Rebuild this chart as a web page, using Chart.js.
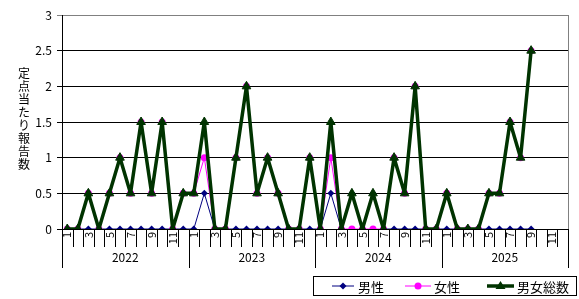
<!DOCTYPE html>
<html lang="ja">
<head>
<meta charset="UTF-8">
<title>定点当たり報告数</title>
<script src="https://cdn.jsdelivr.net/npm/chart.js"></script>
<style>
  body { margin:0; background:#fff; }
  #c { display:block; }
</style>
</head>
<body>
<canvas id="c" width="579" height="299"></canvas>
<script>
// data (monthly, 2022-2025)
const years = ['2022', '2023', '2024', '2025'];
const months = [1,2,3,4,5,6,7,8,9,10,11,12];

const male = [
  0,0,0,0,0,0,0,0,0,0,0,0,
  0,0.5,0,0,0,0,0,0,0,0,0,0,
  0,0.5,0,0.5,0,0.5,0,0,0,0,0,0,
  0,0,0,0,0,0,0,0,0,null,null,null
];
const female = [
  0,0,0.5,0,0.5,1,0.5,1.5,0.5,1.5,0,0.5,
  0.5,1,0,0,1,2,0.5,1,0.5,0,0,1,
  0,1,0,0,0,0,0,1,0.5,2,0,0,
  0.5,0,0,0,0.5,0.5,1.5,1,2.5,null,null,null
];
const total = [
  0,0,0.5,0,0.5,1,0.5,1.5,0.5,1.5,0,0.5,
  0.5,1.5,0,0,1,2,0.5,1,0.5,0,0,1,
  0,1.5,0,0.5,0,0.5,0,1,0.5,2,0,0,
  0.5,0,0,0,0.5,0.5,1.5,1,2.5,null,null,null
];

const labels = [];
years.forEach(y => months.forEach(m => labels.push(y + '-' + m)));

const FONT = '"Noto Sans CJK JP", "DejaVu Sans", sans-serif';
const NAVY = '#000080', PINK = '#ff00ff', GREEN = '#003300';

// month ticks, year row, y title and legend
const decor = {
  id: 'decor',
  afterDraw(chart) {
    const { ctx, chartArea: a } = chart;
    const n = labels.length;
    const w = (a.right - a.left) / n;
    ctx.save();
    ctx.strokeStyle = '#000';
    ctx.lineWidth = 1;
    for (let i = 0; i <= n; i++) {
      const x = Math.round(a.left + i * w) + 0.5;
      const len = i % 12 === 0 ? 39 : 18;
      ctx.beginPath();
      ctx.moveTo(x, a.bottom);
      ctx.lineTo(x, a.bottom + len);
      ctx.stroke();
    }
    // right border of plot
    ctx.strokeStyle = '#808080';
    ctx.beginPath();
    ctx.moveTo(Math.round(a.right) + 0.5, a.top);
    ctx.lineTo(Math.round(a.right) + 0.5, a.bottom);
    ctx.stroke();

    ctx.fillStyle = '#000';
    ctx.font = '12px ' + FONT;
    ctx.textAlign = 'center';
    ctx.textBaseline = 'middle';
    years.forEach((y, k) => {
      const x = a.left + (k * 12 + 6) * w;
      ctx.fillText(y, x, a.bottom + 28);
    });

    // vertical y title
    const title = '定点当たり報告数';
    ctx.font = '12px ' + FONT;
    [...title].forEach((ch, i) => ctx.fillText(ch, 24, 73 + i * 13));

    // legend box
    const lx = 313, ly = 276, lw = 263, lh = 19;
    ctx.strokeStyle = '#000';
    ctx.strokeRect(lx + 0.5, ly + 0.5, lw, lh);
    const cy = ly + lh / 2 + 0.5;
    ctx.font = '13px ' + FONT;
    ctx.textAlign = 'left';
    const items = [
      { x0: 332, x1: 354, c: NAVY, lw: 1, shape: 'diamond', text: '男性', tx: 358 },
      { x0: 405, x1: 431, c: PINK, lw: 1, shape: 'circle', text: '女性', tx: 434 },
      { x0: 487, x1: 514, c: GREEN, lw: 3.5, shape: 'triangle', text: '男女総数', tx: 517 }
    ];
    items.forEach(it => {
      const mx = (it.x0 + it.x1) / 2;
      ctx.strokeStyle = it.c;
      ctx.lineWidth = it.lw;
      ctx.beginPath();
      ctx.moveTo(it.x0, cy);
      ctx.lineTo(it.x1, cy);
      ctx.stroke();
      ctx.fillStyle = it.c;
      ctx.beginPath();
      if (it.shape === 'diamond') {
        ctx.moveTo(mx, cy - 3.5); ctx.lineTo(mx + 3.5, cy);
        ctx.lineTo(mx, cy + 3.5); ctx.lineTo(mx - 3.5, cy);
      } else if (it.shape === 'circle') {
        ctx.arc(mx, cy, 3.5, 0, Math.PI * 2);
      } else {
        ctx.moveTo(mx, cy - 5); ctx.lineTo(mx + 5, cy + 3); ctx.lineTo(mx - 5, cy + 3);
      }
      ctx.closePath();
      ctx.fill();
      ctx.fillStyle = '#000';
      ctx.fillText(it.text, it.tx, cy + 1);
    });
    ctx.restore();
  }
};

new Chart(document.getElementById('c'), {
  type: 'line',
  data: {
    labels,
    datasets: [
      {
        label: '男性', data: male, order: 3,
        borderColor: NAVY, backgroundColor: NAVY, borderWidth: 1,
        pointStyle: 'rectRot', pointRadius: 3.5, pointBorderWidth: 0,
        tension: 0
      },
      {
        label: '女性', data: female, order: 2,
        borderColor: PINK, backgroundColor: PINK, borderWidth: 1,
        pointStyle: 'circle', pointRadius: 3.5, pointBorderWidth: 0,
        tension: 0
      },
      {
        label: '男女総数', data: total, order: 1,
        borderColor: GREEN, backgroundColor: GREEN, borderWidth: 3.5,
        borderJoinStyle: 'round',
        pointStyle: 'triangle', pointRadius: 5, pointBorderWidth: 1,
        pointBorderColor: GREEN, tension: 0
      }
    ]
  },
  options: {
    responsive: false,
    animation: false,
    devicePixelRatio: 1,
    layout: { padding: { left: 0, right: 4, top: 15, bottom: 25 } },
    plugins: { legend: { display: false }, tooltip: { enabled: false } },
    scales: {
      x: {
        type: 'category',
        offset: true,
        grid: { display: false, drawTicks: false },
        border: { display: true, color: '#000', width: 1 },
        ticks: {
          autoSkip: false,
          minRotation: 90,
          maxRotation: 90,
          padding: 3,
          color: '#000',
          font: { family: FONT, size: 11 },
          callback: (v, i) => {
            const m = months[i % 12];
            return m % 2 === 1 ? String(m) : '';
          }
        },
        afterFit: s => { s.height = 45; }
      },
      y: {
        min: 0,
        max: 3,
        ticks: {
          stepSize: 0.5,
          padding: 5,
          color: '#000',
          font: { family: FONT, size: 12 },
          callback: v => String(v)
        },
        grid: {
          color: c => (c.tick && c.tick.value === 3 ? '#808080' : '#000'),
          lineWidth: 1,
          tickLength: 5
        },
        border: { display: true, color: '#000', width: 1 },
        afterFit: s => { s.width = 62; }
      }
    }
  },
  plugins: [decor]
});
</script>
</body>
</html>
